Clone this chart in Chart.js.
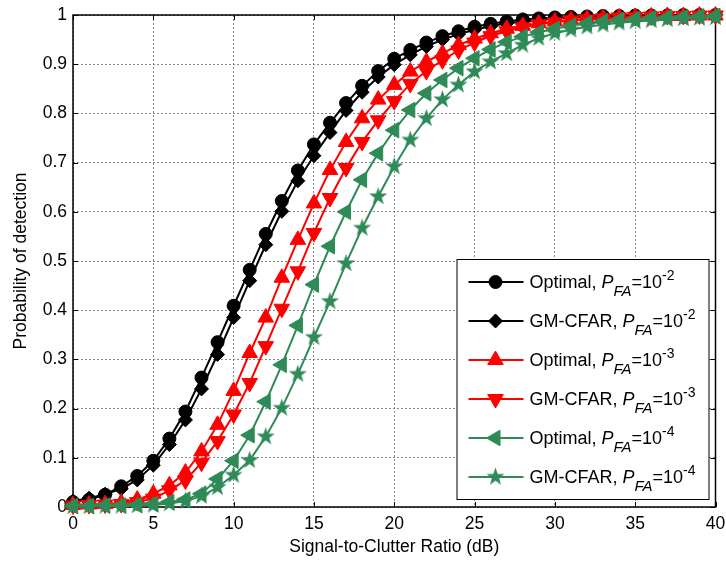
<!DOCTYPE html>
<html lang="en">
<head>
<meta charset="UTF-8">
<title>Probability of detection vs. SCR</title>
<script src="https://cdn.jsdelivr.net/npm/chart.js"></script>
<style>
  body { margin: 0; background: #fff; }
  #wrap { width: 726px; height: 561px; }
</style>
</head>
<body>
<div id="wrap"><canvas id="pdChart" width="726" height="561"></canvas></div>
<script>
// SCR axis (dB) and detection probabilities per detector / PFA
const snr = [0, 1, 2, 3, 4, 5, 6, 7, 8, 9, 10, 11, 12, 13, 14, 15, 16, 17, 18, 19, 20,
             21, 22, 23, 24, 25, 26, 27, 28, 29, 30, 31, 32, 33, 34, 35, 36, 37, 38, 39, 40];

const pdOpt2 = [0.010, 0.015, 0.025, 0.042, 0.063, 0.094, 0.139, 0.194, 0.263, 0.335, 0.409,
                0.482, 0.555, 0.622, 0.684, 0.737, 0.781, 0.821, 0.856, 0.886, 0.911,
                0.929, 0.944, 0.957, 0.967, 0.976, 0.982, 0.987, 0.991, 0.993, 0.995,
                0.996, 0.997, 0.998, 0.998, 0.999, 0.999, 0.999, 1.000, 1.000, 1.000];
const pdGm2  = [0.012, 0.018, 0.026, 0.037, 0.055, 0.085, 0.127, 0.177, 0.240, 0.310, 0.385,
                0.460, 0.533, 0.601, 0.663, 0.714, 0.761, 0.806, 0.843, 0.874, 0.899,
                0.919, 0.936, 0.950, 0.961, 0.970, 0.977, 0.983, 0.987, 0.990, 0.993,
                0.995, 0.996, 0.997, 0.998, 0.998, 0.999, 0.999, 0.999, 1.000, 1.000];
const pdOpt3 = [0.004, 0.005, 0.006, 0.009, 0.015, 0.027, 0.044, 0.070, 0.113, 0.167, 0.236,
                0.313, 0.385, 0.466, 0.543, 0.617, 0.685, 0.742, 0.790, 0.828, 0.858,
                0.885, 0.905, 0.922, 0.939, 0.952, 0.963, 0.972, 0.978, 0.983, 0.987,
                0.990, 0.992, 0.994, 0.995, 0.996, 0.997, 0.998, 0.998, 0.999, 0.999];
const pdGm3  = [0.003, 0.004, 0.005, 0.006, 0.010, 0.017, 0.034, 0.054, 0.090, 0.134, 0.188,
                0.252, 0.327, 0.403, 0.479, 0.557, 0.628, 0.689, 0.742, 0.786, 0.825,
                0.860, 0.886, 0.908, 0.928, 0.944, 0.957, 0.967, 0.975, 0.981, 0.985,
                0.989, 0.991, 0.993, 0.995, 0.996, 0.997, 0.998, 0.998, 0.999, 0.999];
const pdOpt4 = [0.002, 0.002, 0.003, 0.003, 0.004, 0.006, 0.010, 0.015, 0.027, 0.057, 0.094,
                0.146, 0.214, 0.289, 0.369, 0.452, 0.530, 0.600, 0.665, 0.719, 0.766,
                0.807, 0.841, 0.868, 0.892, 0.912, 0.930, 0.945, 0.956, 0.965, 0.972,
                0.978, 0.983, 0.987, 0.990, 0.992, 0.994, 0.995, 0.996, 0.997, 0.998];
const pdGm4  = [0.001, 0.001, 0.002, 0.002, 0.003, 0.004, 0.007, 0.012, 0.022, 0.040, 0.065,
                0.095, 0.143, 0.201, 0.270, 0.345, 0.418, 0.495, 0.567, 0.631, 0.692,
                0.746, 0.790, 0.828, 0.858, 0.885, 0.905, 0.922, 0.939, 0.953, 0.963,
                0.970, 0.976, 0.980, 0.984, 0.987, 0.989, 0.991, 0.993, 0.994, 0.995];

const xTicks = [0, 5, 10, 15, 20, 25, 30, 35, 40];
const yTicks = [0, 0.1, 0.2, 0.3, 0.4, 0.5, 0.6, 0.7, 0.8, 0.9, 1];
const yTickLabels = ['0', '0.1', '0.2', '0.3', '0.4', '0.5', '0.6', '0.7', '0.8', '0.9', '1'];

const seriesNames = ['Optimal', 'GM-CFAR', 'Optimal', 'GM-CFAR', 'Optimal', 'GM-CFAR'];
const pfaExps = ['-2', '-2', '-3', '-3', '-4', '-4'];

const FONT = 'Arial, "Liberation Sans", sans-serif';
const GREEN = '#2e8b57';

// filled five-point star (Chart.js' own 'star' is just an asterisk)
function starImage(color, r) {
  const s = Math.ceil(r * 2 + 2);
  const c = document.createElement('canvas');
  c.width = c.height = s;
  const g = c.getContext('2d');
  g.translate(s / 2, s / 2);
  g.beginPath();
  for (let i = 0; i < 10; i++) {
    const rad = i % 2 === 0 ? r : r * 0.4;
    const a = -Math.PI / 2 + i * Math.PI / 5;
    g.lineTo(Math.cos(a) * rad, Math.sin(a) * rad);
  }
  g.closePath();
  g.fillStyle = color;
  g.fill();
  return c;
}

function pts(values) {
  return snr.map((x, i) => ({ x: x, y: values[i] }));
}

function series(values, color, style, radius, rotation, order) {
  return {
    data: pts(values),
    borderColor: color,
    backgroundColor: color,
    borderWidth: 2,
    pointStyle: style,
    pointRadius: radius,
    pointRotation: rotation,
    pointBorderWidth: 1,
    pointBorderColor: color,
    pointBackgroundColor: color,
    tension: 0,
    clip: false,
    order: order
  };
}

const datasets = [
  series(pdOpt2, '#000000', 'circle', 6.5, 0, 6),
  series(pdGm2, '#000000', 'rectRot', 7, 0, 5),
  series(pdOpt3, '#ff0000', 'triangle', 9, 0, 4),
  series(pdGm3, '#ff0000', 'triangle', 9, 180, 3),
  series(pdOpt4, GREEN, 'triangle', 9, -90, 2),
  series(pdGm4, GREEN, starImage(GREEN, 9.5), 9.5, 0, 1)
];

// axes box + inward tick marks
const boxPlugin = {
  id: 'axesBox',
  beforeDatasetsDraw(chart) {
    const { ctx, chartArea: a, scales } = chart;
    ctx.save();
    ctx.strokeStyle = '#000';
    ctx.lineWidth = 1;
    ctx.beginPath();
    xTicks.forEach(v => {
      const px = Math.round(scales.x.getPixelForValue(v)) + 0.5;
      ctx.moveTo(px, a.bottom); ctx.lineTo(px, a.bottom - 5);
      ctx.moveTo(px, a.top); ctx.lineTo(px, a.top + 5);
    });
    yTicks.forEach(v => {
      const py = Math.round(scales.y.getPixelForValue(v)) + 0.5;
      ctx.moveTo(a.left, py); ctx.lineTo(a.left + 5, py);
      ctx.moveTo(a.right, py); ctx.lineTo(a.right - 5, py);
    });
    ctx.stroke();
    ctx.lineWidth = 1.5;
    ctx.strokeRect(a.left, a.top, a.right - a.left, a.bottom - a.top);
    ctx.restore();
  }
};

function drawRich(ctx, x, y, parts) {
  parts.forEach(p => {
    ctx.font = (p.italic ? 'italic ' : '') + p.size + 'px ' + FONT;
    ctx.fillText(p.text, x, y + (p.dy || 0));
    x += ctx.measureText(p.text).width;
  });
}

// boxed legend: line sample with marker, then "Name, P_FA=10^k"
const legendPlugin = {
  id: 'boxLegend',
  afterDatasetsDraw(chart) {
    const { ctx, chartArea: a } = chart;
    const w = 252, h = 240;
    const left = a.right - 7 - w, top = a.bottom - 8 - h;
    ctx.save();
    ctx.fillStyle = '#fff';
    ctx.fillRect(left, top, w, h);
    ctx.strokeStyle = '#000';
    ctx.lineWidth = 1;
    ctx.strokeRect(left + 0.5, top + 0.5, w, h);

    chart.data.datasets.forEach((ds, i) => {
      const cy = top + 23 + i * 39;
      ctx.strokeStyle = ds.borderColor;
      ctx.fillStyle = ds.borderColor;
      ctx.lineWidth = 2;
      ctx.beginPath();
      ctx.moveTo(left + 12, cy);
      ctx.lineTo(left + 67, cy);
      ctx.stroke();
      ctx.lineWidth = 1;
      Chart.helpers.drawPoint(ctx, {
        pointStyle: ds.pointStyle,
        radius: ds.pointRadius,
        rotation: ds.pointRotation,
        borderWidth: 1
      }, left + 39, cy);

      ctx.fillStyle = '#000';
      ctx.textBaseline = 'alphabetic';
      drawRich(ctx, left + 73, cy + 6, [
        { text: seriesNames[i] + ', ', size: 18 },
        { text: 'P', size: 18, italic: true },
        { text: 'FA', size: 15, italic: true, dy: 8 },
        { text: '=10', size: 18 },
        { text: pfaExps[i], size: 14, dy: -8 }
      ]);
    });
    ctx.restore();
  }
};

new Chart(document.getElementById('pdChart'), {
  type: 'line',
  data: { datasets: datasets },
  options: {
    responsive: false,
    animation: false,
    devicePixelRatio: 1,
    layout: { padding: { left: 0, right: 8, top: 15, bottom: 0 } },
    plugins: { legend: { display: false }, tooltip: { enabled: false } },
    scales: {
      x: {
        type: 'linear',
        min: 0,
        max: 40,
        afterBuildTicks: s => { s.ticks = xTicks.map(v => ({ value: v })); },
        afterFit: s => { s.height = 54; s.paddingLeft = 0; s.paddingRight = 0; },
        ticks: { font: { family: FONT, size: 17.5 }, color: '#000', padding: 7, maxRotation: 0, autoSkip: false },
        grid: { color: '#8a8a8a', lineWidth: 1, drawTicks: false },
        border: { display: false, dash: [2, 2] },
        title: {
          display: true,
          text: 'Signal-to-Clutter Ratio (dB)',
          font: { family: FONT, size: 17.5 },
          color: '#000',
          padding: { top: 0, bottom: 3.5 }
        }
      },
      y: {
        type: 'linear',
        min: 0,
        max: 1,
        afterBuildTicks: s => { s.ticks = yTicks.map(v => ({ value: v })); },
        afterFit: s => { s.width = 73; s.paddingTop = 0; s.paddingBottom = 0; },
        ticks: {
          font: { family: FONT, size: 17.5 },
          color: '#000',
          padding: 6,
          autoSkip: false,
          callback: (v, i) => yTickLabels[i]
        },
        grid: { color: '#8a8a8a', lineWidth: 1, drawTicks: false },
        border: { display: false, dash: [2, 2] },
        title: {
          display: true,
          text: 'Probability of detection',
          font: { family: FONT, size: 17.5 },
          color: '#000',
          padding: { top: 11, bottom: 0 }
        }
      }
    }
  },
  plugins: [boxPlugin, legendPlugin]
});
</script>
</body>
</html>
